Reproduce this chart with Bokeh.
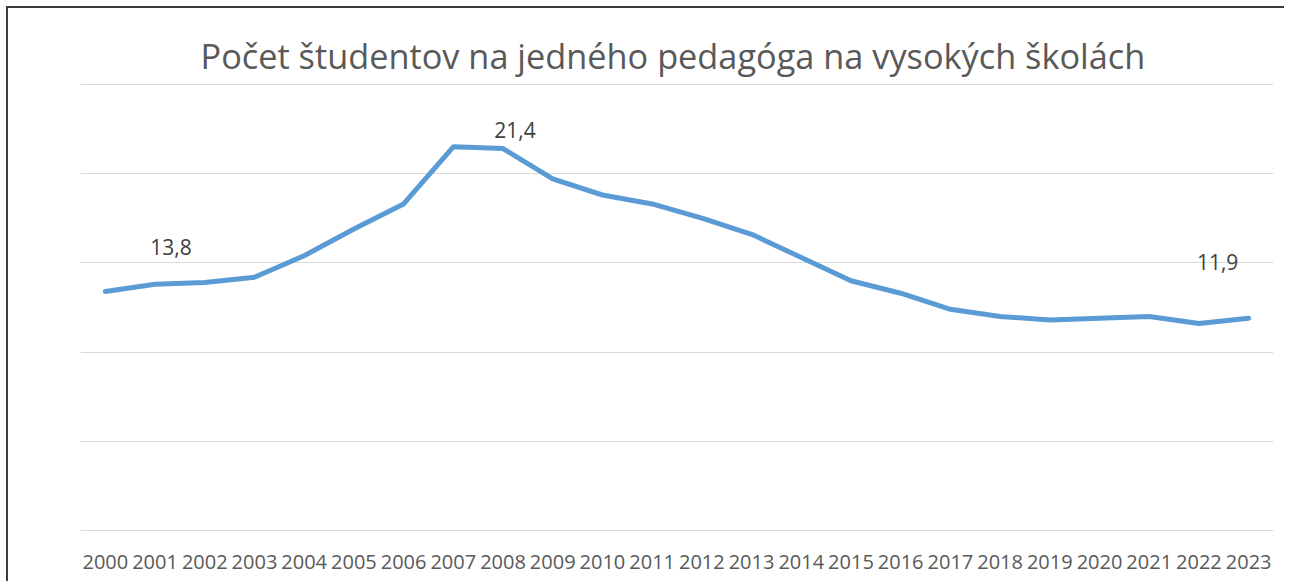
from bokeh.plotting import figure
from bokeh.models import FactorRange, Range1d, FixedTicker, ColumnDataSource
from bokeh.core.properties import value
from bokeh.embed import file_html
from bokeh.resources import INLINE

years = [str(y) for y in range(2000, 2024)]
ratio = [13.4, 13.8, 13.9, 14.2, 15.4, 16.9, 18.3, 21.5, 21.4, 19.7, 18.8, 18.3,
         17.5, 16.6, 15.3, 14.0, 13.3, 12.4, 12.0, 11.8, 11.9, 12.0, 11.6, 11.9]
label_years = ["2001", "2008", "2023"]
label_texts = ["13,8", "21,4", "11,9"]
grid_ticks = [0, 5, 10, 15, 20, 25]
title_text = "Počet študentov na jedného pedagóga na vysokých školách"

FONT = "Open Sans"

p = figure(x_range=FactorRange(*years), y_range=Range1d(-0.1, 25.1),
           width=1278, height=575, output_backend="svg", toolbar_location=None,
           min_border_left=72, min_border_right=13, min_border_top=74, min_border_bottom=51,
           title=title_text)
p.margin = (6, 0, 0, 6)
p.styles = {"border-left": "2px solid #3c3c3c", "border-top": "2px solid #3c3c3c"}
p.title.align = "left"
p.title.offset = 120
p.title.text_font = FONT
p.title.text_font_size = "34.3px"
p.title.text_font_style = "normal"
p.title.text_color = "#595959"
p.title.standoff = 7

p.outline_line_color = None
p.background_fill_color = "white"
p.border_fill_color = "white"

p.yaxis.visible = False
p.yaxis.ticker = FixedTicker(ticks=grid_ticks)
p.ygrid.ticker = FixedTicker(ticks=grid_ticks)
p.ygrid.grid_line_color = "#d9d9d9"
p.ygrid.grid_line_width = 1
p.xgrid.grid_line_color = None

p.xaxis.axis_line_color = None
p.xaxis.major_tick_line_color = None
p.xaxis.minor_tick_line_color = None
p.xaxis.major_label_text_font = FONT
p.xaxis.major_label_text_font_size = "20px"
p.xaxis.major_label_text_color = "#595959"
p.xaxis.major_label_standoff = 16

src = ColumnDataSource(dict(x=years, y=ratio))
p.line("x", "y", source=src, line_color="#5B9BD5", line_width=5,
       line_join="round", line_cap="round")

lab_y = [ratio[years.index(y)] for y in label_years]
lsrc = ColumnDataSource(dict(x=label_years, y=lab_y, t=label_texts,
                             dx=[16, 12, -31], dy=[-37, -19, -56]))
p.text("x", "y", text="t", source=lsrc, x_offset="dx", y_offset="dy",
       text_font=value(FONT), text_font_size="21px", text_color="#404040",
       text_align="center", text_baseline="middle")

open("out.html", "w").write(file_html(p, INLINE))
